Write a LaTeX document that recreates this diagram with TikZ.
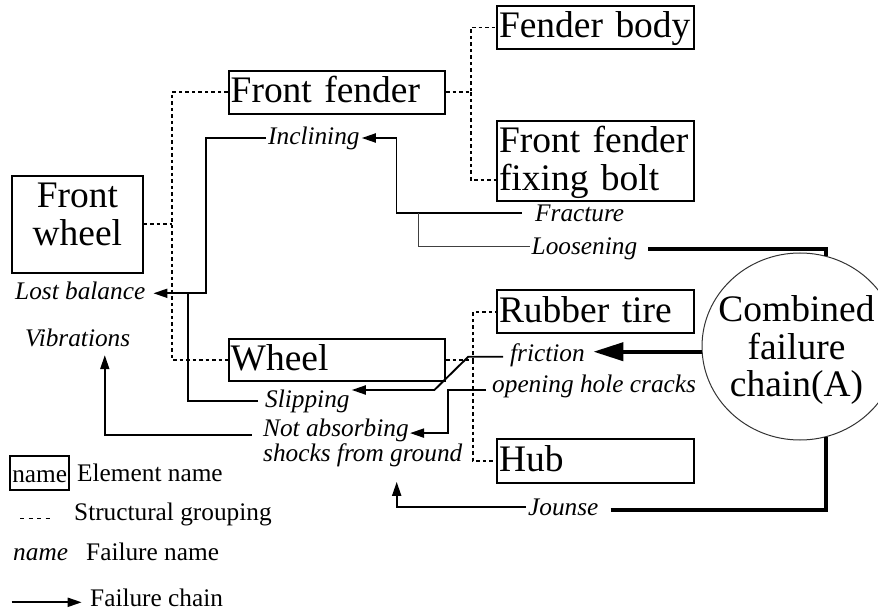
\documentclass[tikz,border=0pt]{standalone}
\usepackage{fontspec}
\setmainfont{Liberation Serif}
\usetikzlibrary{arrows.meta,shapes.geometric}
\newcommand{\BigF}{\fontsize{37.6}{37.5}\selectfont}
\newcommand{\SmallI}{\fontsize{25.4}{25}\selectfont\itshape}
\newcommand{\SmallR}{\fontsize{25.4}{25}\selectfont}
\begin{document}
\begin{tikzpicture}[x=1bp,y=-1bp,
  elem/.style={draw, line width=2bp, inner ysep=0pt, inner xsep=2bp, align=left, anchor=north west, font=\BigF},
  fail/.style={inner ysep=0pt, inner xsep=2bp, font=\SmallI, text height=17.8bp, text depth=5.1bp, anchor=west},
  chain/.style={line width=1.9bp, -{Triangle[length=14bp,width=9bp]}},
  bigchain/.style={line width=4bp, -{Triangle[length=30bp,width=18bp]}},
  link/.style={line width=1.9bp},
  thinlink/.style={line width=1.1bp, black!75},
  struct/.style={line width=1.8bp, dash pattern=on 3.5bp off 3bp},
  combo/.style={line width=4bp},
]
\useasboundingbox (0,0) rectangle (878,611);

% element boxes
\node[elem, text width=193bp, text height=32bp, text depth=11bp] (fb) at (496,5) {Fender body};
\node[elem, text width=212.3bp, text height=31.7bp, text depth=11bp] (ff) at (227.7,70) {Front fender};
\node[elem, text width=193bp, text height=32bp, text depth=48bp] (ffb) at (496,120) {Front fender\\fixing bolt};
\node[elem, text width=126.7bp, align=center, text height=31.7bp, text depth=65bp] (fw) at (11,175) {Front\\wheel};
\node[elem, text width=212.3bp, text height=31bp, text depth=11bp] (wh) at (227.7,338) {Wheel};
\node[elem, text width=192.7bp, text height=32.4bp, text depth=10.6bp] (rt) at (496,289.3) {Rubber tire};
\node[elem, text width=192.7bp, text height=32.4bp, text depth=11bp] (hub) at (496,438.3) {Hub};

% combined failure chain
\node[draw, ellipse, line width=1bp, black!80, text=black, minimum width=196bp, minimum height=187bp, inner sep=0pt, font=\BigF, text height=30bp, text depth=80bp] (cf) at (800,346.5)
  {\makebox[0pt]{\kern-7bp\begin{tabular}[t]{@{}c@{}}Combined\\failure\\chain(A)\end{tabular}}};

% failure names
\node[fail] (incl) at (266,138) {Inclining};
\node[fail] (lostb) at (13,293.3) {Lost balance};
\node[fail] (vib) at (23,340.35) {Vibrations};
\node[fail] (slip) at (263,401.35) {Slipping};
\node[anchor=base west, font=\SmallI, inner sep=0pt, text height=18bp, text depth=32bp] (notab) at (263,436.7)
  {\begin{tabular}[t]{@{}l@{}}Not absorbing\\shocks from ground\end{tabular}};
\node[fail] (fric) at (508,355.35) {friction};
\node[fail] (ohc) at (490,386) {opening hole cracks};
\node[fail] (frac) at (533,215.35) {Fracture};
\node[fail] (loos) at (529.5,248.65) {Loosening};
\node[fail] (jou) at (526,508.65) {Jounse};

% structural grouping
\coordinate (busL) at (171.7,0);
\coordinate (busR) at (470.7,0);
\coordinate (busW) at (473.3,0);
\draw[struct] (ff.west) -- (ff.west -| busL) |- (wh.west);
\draw[struct] (fw.east) -- (fw.east -| busL);
\draw[struct] (ff.east) -- (ff.east -| busR) |- (fb.west);
\draw[struct] (ff.east -| busR) |- ([yshift=-19bp]ffb.west);
\draw[struct] (wh.east) -- (wh.east -| busW) |- (rt.west);
\draw[struct] (wh.east -| busW) |- (hub.west);

% helper coordinates
\coordinate (lostin) at ([xshift=6bp]lostb.east);
\coordinate (slipin) at ([yshift=11.35bp]slip.east);
\coordinate (notabin) at ([xshift=147bp,yshift=-14.6bp]notab.north west);
\coordinate (ohcout) at ([xshift=-4bp,yshift=-4bp]ohc.west);
\coordinate (fricend) at ([xshift=6.5bp,yshift=3.65bp]fric.east);

% failure chains
\draw[chain] ([xshift=-11.3bp,yshift=2bp]frac.west) -| ([xshift=34.7bp]incl.east) -- (incl.east);
\draw[thinlink] ([yshift=2bp]loos.west) -| ([xshift=-114.7bp,yshift=2bp]frac.west);
\draw[chain] (incl.west) -| ([xshift=52.2bp]lostin) -- (lostin);
\draw[link] ([xshift=-5bp]slip.west) -| ([xshift=34.5bp]lostin);
\draw[chain] ([xshift=-5bp,yshift=-1.35bp]fric.west) -- ++(-34.7,0) -- ([xshift=82.6bp]slipin) -- (slipin);
\draw[chain] (ohcout) -| ([xshift=38.3bp]notabin) -- (notabin);
\draw[chain] ([xshift=-11.3bp,yshift=-16.3bp]notab.north west) -| ([xshift=27.1bp,yshift=-3.2bp]vib.south);
\draw[chain] ([yshift=2bp]jou.west) -| ([xshift=133.7bp,yshift=-13bp]notab.south west);

% combined chain links
\draw[combo] ([xshift=9bp]loos.east) -| (cf.74);
\draw[combo] ([xshift=10bp,yshift=-1.3bp]jou.east) -| (cf.-74);
\draw[bigchain] (cf.west |- fricend) -- (fricend);

% legend
\node[draw, line width=2bp, anchor=north west, inner ysep=0pt, inner xsep=2bp, font=\SmallR, text height=26.7bp, text depth=7.6bp] (legbox) at (9.3,455) {name};
\node[anchor=base west, font=\SmallR, inner sep=0pt] (legelem) at (77,481.7) {Element name};
\coordinate (legdA) at (20,518.3);
\coordinate (legdB) at (50,518.3);
\draw[line width=1.5bp, dash pattern=on 4bp off 4.5bp] (legdA) -- (legdB);
\node[anchor=base west, font=\SmallR, inner sep=0pt] (legstruct) at (74,520) {Structural grouping};
\node[anchor=base west, font=\SmallI, inner sep=0pt] (legfail) at (13,560) {name};
\node[anchor=base west, font=\SmallR, inner sep=0pt] (legfailn) at (86,560) {Failure name};
\coordinate (legaA) at (11.7,602.3);
\coordinate (legaB) at (81.7,602.3);
\draw[chain] (legaA) -- (legaB);
\node[anchor=base west, font=\SmallR, inner sep=0pt] (legchain) at (90,606.7) {Failure chain};
\end{tikzpicture}
\end{document}
